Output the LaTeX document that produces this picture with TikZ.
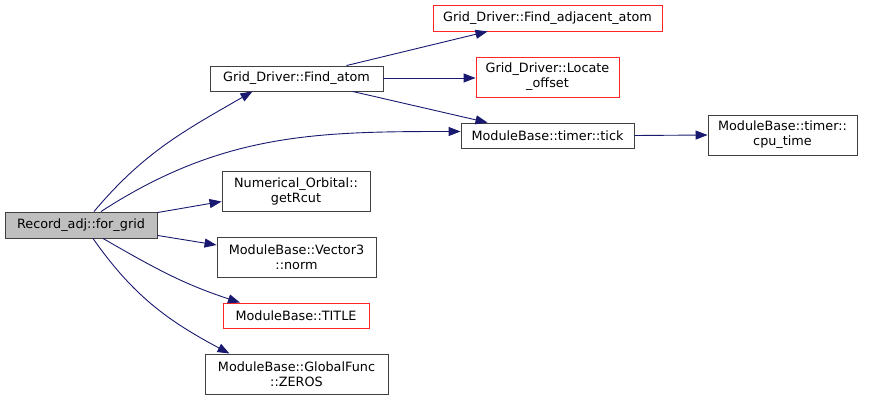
\documentclass[tikz,border=0pt]{standalone}
\usepackage{fontspec}
\setmainfont{DejaVu Sans}
\usetikzlibrary{arrows.meta}
\definecolor{edgeblue}{HTML}{191970}
\definecolor{boxgray}{HTML}{404040}
\definecolor{fillgray}{HTML}{BFBFBF}
\tikzset{
  fn/.style={draw=boxgray, line width=0.9pt, rectangle, inner sep=0pt, align=center,
    font=\fontsize{12.8}{15}\selectfont, text=black},
  fnred/.style={fn, draw=red!85!white},
  fncur/.style={fn, fill=fillgray},
  call/.style={draw=edgeblue, line width=0.9pt, -{Triangle[length=12pt,width=9pt]}},
}
\begin{document}
\begin{tikzpicture}[x=1pt,y=1pt]
\useasboundingbox (0,0) rectangle (877,-401);
\node[fncur, minimum width=152, minimum height=26] (forgrid) at (81,-225) {Record\_adj::for\_grid};
\node[fn, minimum width=173, minimum height=25] (findatom) at (296.5,-78.5) {Grid\_Driver::Find\_atom};
\node[fnred, minimum width=229, minimum height=26] (adj) at (547.5,-18) {Grid\_Driver::Find\_adjacent\_atom};
\node[fnred, minimum width=143, minimum height=40] (locate) at (547.5,-77) {Grid\_Driver::Locate\\\_offset};
\node[fn, minimum width=173, minimum height=25] (tick) at (547.5,-135.5) {ModuleBase::timer::tick};
\node[fn, minimum width=149, minimum height=40] (cpu) at (782.5,-135) {ModuleBase::timer::\\cpu\_time};
\node[fn, minimum width=148, minimum height=40] (getrcut) at (296,-191.5) {Numerical\_Orbital::\\getRcut};
\node[fn, minimum width=159, minimum height=40] (norm) at (296.5,-257) {ModuleBase::Vector3\\::norm};
\node[fnred, minimum width=146, minimum height=25] (title) at (296,-315.5) {ModuleBase::TITLE};
\node[fn, minimum width=183, minimum height=40] (zeros) at (296.5,-374) {ModuleBase::GlobalFunc\\::ZEROS};

\draw[call] ([xshift=13pt]forgrid.north) to[out=50,in=210] ([xshift=-44pt]findatom.south);
\draw[call] ([xshift=20pt]forgrid.north) to[out=33,in=180] ([yshift=4pt]tick.west);
\draw[call] ([yshift=-1pt]forgrid.north east) -- ([yshift=-10pt]getrcut.west);
\draw[call] ([yshift=3pt]forgrid.south east) -- ([yshift=12pt]norm.west);
\draw[call] ([xshift=22pt]forgrid.south) to[out=-30,in=162] ([xshift=-56pt]title.north);
\draw[call] ([xshift=12pt]forgrid.south) to[out=-55,in=152] ([xshift=-67pt]zeros.north);
\draw[call] ([xshift=50pt]findatom.north) -- ([xshift=-60pt]adj.south);
\draw[call] ([yshift=0.5pt]findatom.east) -- ([yshift=-1pt]locate.west);
\draw[call] ([xshift=56pt]findatom.south) -- ([xshift=-60pt]tick.north);
\draw[call] (tick.east) -- (cpu.west);
\end{tikzpicture}
\end{document}
